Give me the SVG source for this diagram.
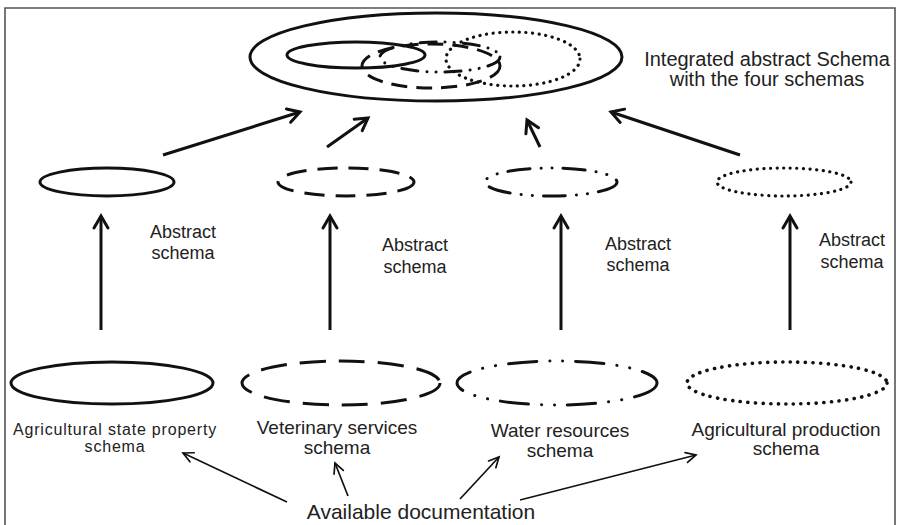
<svg xmlns="http://www.w3.org/2000/svg" width="898" height="525" viewBox="0 0 898 525">
  <style>
    text { font-family: "Liberation Sans", "DejaVu Sans", sans-serif; fill: #222; text-anchor: middle; }
    .lbl { font-size: 18px; }
    .big { font-size: 20px; }
    .src { font-size: 19px; }
    .sm { font-size: 16px; letter-spacing: 0.8px; }
    .doc { font-size: 21px; }
    .sh { fill: none; stroke: #111; stroke-width: 3; stroke-linecap: round; }
    .dash { stroke-dasharray: 26 13; stroke-linecap: butt; }
    .dashm { stroke-dasharray: 20 11; stroke-linecap: butt; }
    .dashs { stroke-dasharray: 16 9; stroke-linecap: butt; }
    .dd { stroke-dasharray: 28 13 0.1 13 0.1 13; }
    .ddm { stroke-dasharray: 22 11 0.1 11 0.1 11; }
    .dds { stroke-dasharray: 16 9 0.1 9 0.1 9; }
    .dot { stroke-dasharray: 0.1 7.5; stroke-width: 3.6; }
    .dots { stroke-dasharray: 0.1 6.5; stroke-width: 3.2; }
    .thick { fill: none; stroke: #111; stroke-width: 3; marker-end: url(#headL); }
    .thin { fill: none; stroke: #111; stroke-width: 1.7; marker-end: url(#headS); }
    .frame { fill: none; stroke: #555; stroke-width: 1.6; }
  </style>
  <defs>
    <marker id="headL" markerUnits="userSpaceOnUse" viewBox="-14 -9 16 18" markerWidth="16" markerHeight="18" refX="0" refY="0" orient="auto" overflow="visible">
      <path d="M-12,-7 L0,0 L-12,7" fill="none" stroke="#111" stroke-width="3" stroke-linecap="round"/>
    </marker>
    <marker id="headS" markerUnits="userSpaceOnUse" viewBox="-12 -7 14 14" markerWidth="14" markerHeight="14" refX="0" refY="0" orient="auto" overflow="visible">
      <path d="M-10,-5 L0,0 L-10,5" fill="none" stroke="#111" stroke-width="1.7" stroke-linecap="round"/>
    </marker>
  </defs>

  <rect width="898" height="525" fill="#fff"/>
  <!-- page frame, open at the bottom -->
  <path class="frame" d="M5,525 V8 H895 V525"/>

  <!-- integrated schema -->
  <g id="integrated">
    <ellipse class="sh" cx="436" cy="57" rx="186" ry="44"/>
    <ellipse class="sh" cx="356" cy="55" rx="69" ry="13"/>
    <ellipse class="sh dashs" cx="431" cy="66" rx="69" ry="22"/>
    <ellipse class="sh dds" cx="440" cy="57" rx="60" ry="15"/>
    <ellipse class="sh dots" cx="513" cy="59" rx="67" ry="27"/>
    <text class="big" x="767" y="66">Integrated abstract Schema</text>
    <text class="big" x="767" y="86">with the four schemas</text>
  </g>

  <!-- abstract schemas -->
  <g id="abstract-1">
    <ellipse class="sh" cx="107" cy="182" rx="67" ry="14"/>
    <text class="lbl" x="183" y="238">Abstract</text>
    <text class="lbl" x="183" y="259">schema</text>
  </g>
  <g id="abstract-2">
    <ellipse class="sh dashm" cx="346" cy="182" rx="68" ry="14"/>
    <text class="lbl" x="415" y="251">Abstract</text>
    <text class="lbl" x="415" y="273">schema</text>
  </g>
  <g id="abstract-3">
    <ellipse class="sh ddm" cx="551" cy="182" rx="66" ry="14"/>
    <text class="lbl" x="638" y="250">Abstract</text>
    <text class="lbl" x="638" y="271">schema</text>
  </g>
  <g id="abstract-4">
    <ellipse class="sh dots" cx="784" cy="182" rx="67" ry="14"/>
    <text class="lbl" x="852" y="246">Abstract</text>
    <text class="lbl" x="852" y="268">schema</text>
  </g>

  <!-- source schemas -->
  <g id="source-1">
    <ellipse class="sh" cx="112" cy="383" rx="101" ry="21"/>
    <text class="sm" x="115" y="435">Agricultural state property</text>
    <text class="sm" x="115" y="452">schema</text>
  </g>
  <g id="source-2">
    <ellipse class="sh dash" cx="341" cy="383" rx="99" ry="22"/>
    <text class="src" x="337" y="434">Veterinary services</text>
    <text class="src" x="337" y="454">schema</text>
  </g>
  <g id="source-3">
    <ellipse class="sh dd" cx="557" cy="383" rx="100" ry="22"/>
    <text class="src" x="560" y="437">Water resources</text>
    <text class="src" x="560" y="457">schema</text>
  </g>
  <g id="source-4">
    <ellipse class="sh dot" cx="787" cy="383" rx="100" ry="21"/>
    <text class="src" x="786" y="436">Agricultural production</text>
    <text class="src" x="786" y="455">schema</text>
  </g>

  <g id="documentation">
    <text class="doc" x="421" y="519">Available documentation</text>
  </g>

  <!-- connectors -->
  <g id="connectors">
    <line class="thick" x1="163" y1="155" x2="300" y2="112"/>
    <line class="thick" x1="327" y1="147" x2="368" y2="118"/>
    <line class="thick" x1="540" y1="147" x2="527" y2="120"/>
    <line class="thick" x1="740" y1="155" x2="611" y2="112"/>

    <line class="thick" x1="101" y1="330" x2="101" y2="216"/>
    <line class="thick" x1="330" y1="330" x2="330" y2="216"/>
    <line class="thick" x1="561" y1="330" x2="561" y2="216"/>
    <line class="thick" x1="790" y1="330" x2="790" y2="216"/>

    <line class="thin" x1="287" y1="502" x2="183" y2="453"/>
    <line class="thin" x1="348" y1="496" x2="335" y2="463"/>
    <line class="thin" x1="460" y1="499" x2="499" y2="457"/>
    <line class="thin" x1="520" y1="500" x2="696" y2="455"/>
  </g>
</svg>
